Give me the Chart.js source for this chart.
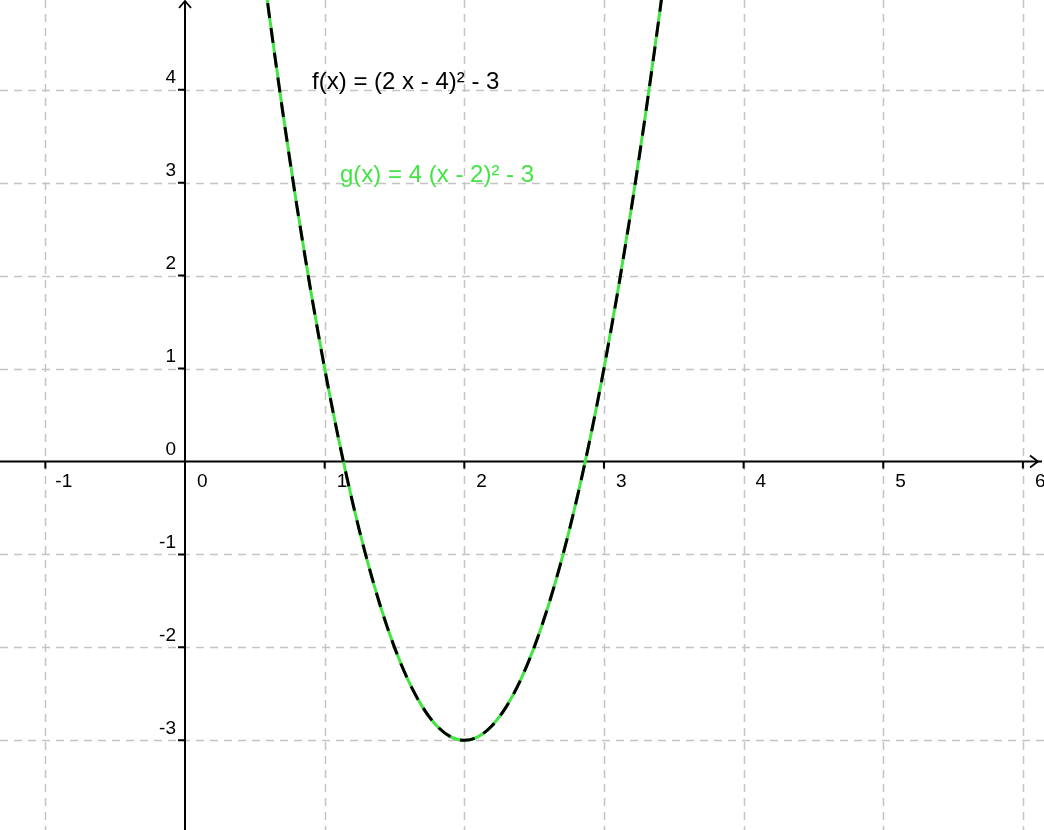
<!DOCTYPE html>
<html>
<head>
<meta charset="utf-8">
<script src="https://cdn.jsdelivr.net/npm/chart.js@4.4.0/dist/chart.umd.min.js"></script>
<style>
  html, body { margin: 0; padding: 0; background: #fff; }
  #plot { display: block; }
</style>
</head>
<body>
<canvas id="plot" width="1044" height="830"></canvas>
<script>
// ================== DATA ==================
const xValues = [0.5, 0.6, 0.7, 0.8, 0.9, 1.0, 1.1, 1.2, 1.3, 1.4, 1.5, 1.6, 1.7, 1.8, 1.9, 2.0,
  2.1, 2.2, 2.3, 2.4, 2.5, 2.6, 2.7, 2.8, 2.9, 3.0, 3.1, 3.2, 3.3, 3.4, 3.5];
const fValues = [6, 4.84, 3.76, 2.76, 1.84, 1, 0.24, -0.44, -1.04, -1.56, -2, -2.36, -2.64, -2.84, -2.96, -3,
  -2.96, -2.84, -2.64, -2.36, -2, -1.56, -1.04, -0.44, 0.24, 1, 1.84, 2.76, 3.76, 4.84, 6];
const gValues = [6, 4.84, 3.76, 2.76, 1.84, 1, 0.24, -0.44, -1.04, -1.56, -2, -2.36, -2.64, -2.84, -2.96, -3,
  -2.96, -2.84, -2.64, -2.36, -2, -1.56, -1.04, -0.44, 0.24, 1, 1.84, 2.76, 3.76, 4.84, 6];

const xTicks = [-1, 0, 1, 2, 3, 4, 5, 6];
const yTicks = [-3, -2, -1, 0, 1, 2, 3, 4];

const fLabel = "f(x) = (2 x - 4)² - 3";
const gLabel = "g(x) = 4 (x - 2)² - 3";

const GREEN = "#44e444";
const GRID = "#c4c4c4";
const FONT = '"Liberation Sans", Arial, sans-serif';

// ================== PLUGIN: grid, axes, labels ==================
const axesPlugin = {
  id: "geoAxes",
  beforeDatasetsDraw(chart) {
    const { ctx, chartArea: a, scales: { x, y } } = chart;
    const x0 = x.getPixelForValue(0);
    const y0 = y.getPixelForValue(0);

    ctx.save();
    // dashed grid
    ctx.strokeStyle = GRID;
    ctx.lineWidth = 1.5;
    ctx.setLineDash([8, 6]);
    xTicks.forEach((v) => {
      if (v === 0) return;
      const px = Math.round(x.getPixelForValue(v)) + 0.5;
      ctx.beginPath();
      ctx.moveTo(px, a.top);
      ctx.lineTo(px, a.bottom);
      ctx.stroke();
    });
    yTicks.forEach((v) => {
      if (v === 0) return;
      const py = Math.round(y.getPixelForValue(v)) + 0.5;
      ctx.beginPath();
      ctx.moveTo(a.left, py);
      ctx.lineTo(a.right, py);
      ctx.stroke();
    });
    ctx.setLineDash([]);

    // axes
    ctx.strokeStyle = "#000";
    ctx.lineWidth = 2;
    ctx.beginPath();
    ctx.moveTo(a.left, y0);
    ctx.lineTo(a.right - 2, y0);
    ctx.moveTo(x0, a.bottom);
    ctx.lineTo(x0, a.top + 1);
    ctx.stroke();

    // arrows
    ctx.lineWidth = 1.8;
    ctx.beginPath();
    ctx.moveTo(a.right - 14, y0 - 6);
    ctx.lineTo(a.right - 6, y0);
    ctx.lineTo(a.right - 14, y0 + 6);
    ctx.moveTo(x0 - 6, a.top + 8);
    ctx.lineTo(x0, a.top + 1);
    ctx.lineTo(x0 + 6, a.top + 8);
    ctx.stroke();

    // tick marks
    ctx.lineWidth = 2;
    ctx.beginPath();
    xTicks.forEach((v) => {
      if (v === 0) return;
      const px = x.getPixelForValue(v);
      ctx.moveTo(px, y0);
      ctx.lineTo(px, y0 + 7);
    });
    yTicks.forEach((v) => {
      if (v === 0) return;
      const py = y.getPixelForValue(v);
      ctx.moveTo(x0, py);
      ctx.lineTo(x0 - 7, py);
    });
    ctx.stroke();

    // tick labels
    ctx.fillStyle = "#000";
    ctx.font = "19px " + FONT;
    ctx.textBaseline = "middle";
    ctx.textAlign = "left";
    xTicks.forEach((v) => {
      const px = x.getPixelForValue(v);
      ctx.fillText(String(v), px + (v < 0 ? 10 : 12), y0 + 20);
    });
    ctx.textAlign = "right";
    yTicks.forEach((v) => {
      const py = y.getPixelForValue(v);
      ctx.fillText(String(v), x0 - 9, py - 12);
    });
    ctx.restore();
  },
  afterDatasetsDraw(chart) {
    const { ctx, scales: { x, y } } = chart;
    ctx.save();
    ctx.font = "24px " + FONT;
    ctx.textBaseline = "alphabetic";
    ctx.textAlign = "left";
    ctx.fillStyle = "#000";
    ctx.fillText(fLabel, x.getPixelForValue(0.91), y.getPixelForValue(4.007));
    ctx.fillStyle = GREEN;
    ctx.fillText(gLabel, x.getPixelForValue(1.11), y.getPixelForValue(3.007));
    ctx.restore();
  },
};

// ================== CHART ==================
const toPoints = (ys) => xValues.map((xv, i) => ({ x: xv, y: ys[i] }));

new Chart(document.getElementById("plot"), {
  type: "line",
  data: {
    datasets: [
      {
        label: "f",
        data: toPoints(fValues),
        borderColor: "#000",
        borderWidth: 3,
        borderDash: [15, 10],
        pointRadius: 0,
        cubicInterpolationMode: "monotone",
        order: 1,
      },
      {
        label: "g",
        data: toPoints(gValues),
        borderColor: GREEN,
        borderWidth: 3,
        pointRadius: 0,
        cubicInterpolationMode: "monotone",
        order: 2,
      },
    ],
  },
  options: {
    responsive: false,
    animation: false,
    layout: { padding: 0 },
    plugins: { legend: { display: false }, tooltip: { enabled: false } },
    scales: {
      x: { type: "linear", min: -1.3248, max: 6.151, display: false },
      y: { type: "linear", min: -3.965, max: 4.965, display: false },
    },
  },
  plugins: [axesPlugin],
});
</script>
</body>
</html>
